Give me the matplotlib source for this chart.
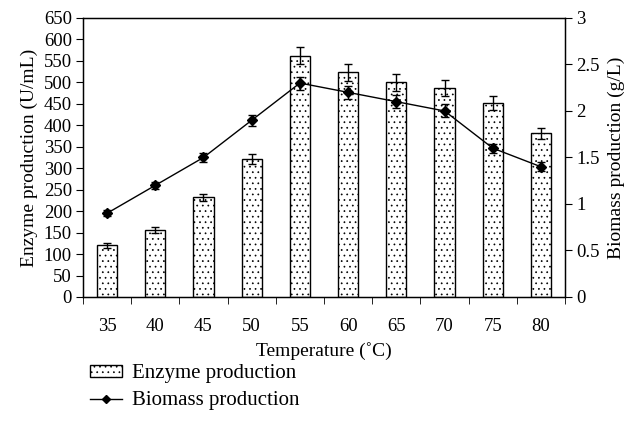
import numpy as np
import matplotlib.pyplot as plt
from matplotlib.patches import Patch
from matplotlib.lines import Line2D

plt.rcParams['font.family'] = ['Liberation Serif', 'DejaVu Serif']
plt.rcParams['hatch.linewidth'] = 0.5

temps = ['35', '40', '45', '50', '55', '60', '65', '70', '75', '80']
enzyme = [120, 157, 232, 322, 562, 523, 500, 487, 452, 381]
enzyme_err = [6, 7, 9, 12, 20, 20, 20, 18, 16, 12]
biomass = [0.9, 1.2, 1.5, 1.9, 2.3, 2.2, 2.1, 2.0, 1.6, 1.4]
biomass_err = [0.03, 0.04, 0.05, 0.06, 0.07, 0.07, 0.07, 0.07, 0.05, 0.05]

fig = plt.figure(figsize=(6.31, 4.38), dpi=100)
ax = fig.add_axes([0.1315, 0.322, 0.764, 0.637])
x = np.arange(len(temps))

ax.bar(x, enzyme, width=0.42, color='white', edgecolor='black', linewidth=1.0,
       hatch='...', zorder=2)
ax.errorbar(x, enzyme, yerr=enzyme_err, fmt='none', ecolor='black',
            elinewidth=1.0, capsize=3, capthick=1.0, zorder=3)

ax.set_xlim(-0.5, len(temps) - 0.5)
ax.set_ylim(0, 650)
ax.set_yticks(np.arange(0, 651, 50))
ax.set_xticks(x)
ax.set_xticklabels(temps)
ax.set_xticks(np.arange(-0.5, len(temps), 1), minor=True)
ax.tick_params(axis='x', which='major', length=0, labelsize=13.5, pad=15.5)
ax.tick_params(axis='x', which='minor', length=5, direction='out')
ax.tick_params(axis='y', labelsize=13.5, direction='out', length=5, pad=3)
ax.set_xlabel('Temperature (˚C)', fontsize=14, labelpad=5)
ax.set_ylabel('Enzyme production (U/mL)', fontsize=14, labelpad=4)
for s in ax.spines.values():
    s.set_linewidth(1.0)

ax2 = ax.twinx()
ax2.errorbar(x, biomass, yerr=biomass_err, color='black', marker='D', markersize=5,
             linewidth=1.0, elinewidth=1.0, capsize=3, capthick=1.0, zorder=4)
ax2.set_ylim(0, 3)
ax2.set_yticks([0, 0.5, 1, 1.5, 2, 2.5, 3])
ax2.set_yticklabels(['0', '0.5', '1', '1.5', '2', '2.5', '3'])
ax2.tick_params(axis='y', labelsize=13.5, direction='out', length=5, pad=3)
ax2.set_ylabel('Biomass production (g/L)', fontsize=14, labelpad=6)

handles = [Patch(facecolor='white', edgecolor='black', hatch='...', linewidth=1.0),
           Line2D([0], [0], color='black', marker='D', markersize=4, linewidth=1.0)]
fig.legend(handles, ['Enzyme production', 'Biomass production'],
           loc='upper left', bbox_to_anchor=(0.13, 0.187), frameon=False,
           fontsize=15, handlelength=1.5, handleheight=0.5, labelspacing=0.38,
           handletextpad=0.5, borderaxespad=0)

fig.savefig('out.png', dpi=100)
